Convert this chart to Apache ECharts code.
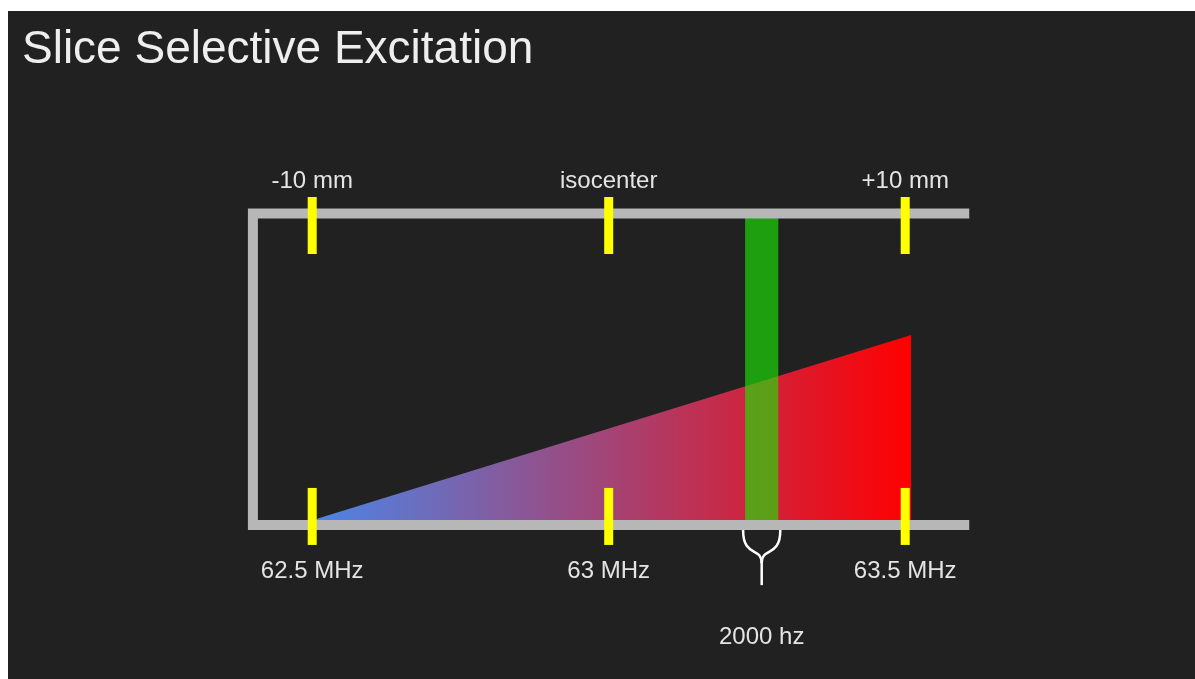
<!DOCTYPE html>
<html>
<head>
<meta charset="utf-8">
<script src="https://cdn.jsdelivr.net/npm/echarts@6/dist/echarts.min.js"></script>
<style>
  html, body { margin: 0; padding: 0; background: #ffffff; width: 1195px; height: 679px; overflow: hidden; }
  #chart { position: absolute; left: 8px; top: 11px; width: 1187px; height: 668px; }
</style>
</head>
<body>
<div id="chart"></div>
<script>
// ---- data ----
const titleText = 'Slice Selective Excitation';
const tickFreqs = [62.5, 63, 63.5];                 // MHz, yellow markers
const freqLabels = ['62.5 MHz', '63 MHz', '63.5 MHz'];
const posLabels = ['-10 mm', 'isocenter', '+10 mm'];
const frameX = [62.4, 63.608];                      // extent of the grey frame (MHz)
const frameY = [0, 10];                             // bottom / top rails
const topTickY = [8.7, 10.53];
const bottomTickY = [-0.64, 1.19];
const rampX = [62.5, 63.51];                        // gradient field ramp
const rampY = [0.15, 6.1];
const slice = [63.23, 63.286];                      // excited slice band (MHz)
const sliceLabel = '2000 hz';

const FONT = '"Liberation Sans", Arial, Helvetica, sans-serif';
const chart = echarts.init(document.getElementById('chart'));

const tickData = [];
tickFreqs.forEach(f => {
  tickData.push([f, topTickY[0], topTickY[1]]);
  tickData.push([f, bottomTickY[0], bottomTickY[1]]);
});

const labelData = [];
tickFreqs.forEach((f, i) => {
  labelData.push([f, 11.04, posLabels[i]]);
  labelData.push([f, -1.49, freqLabels[i]]);
});
labelData.push([(slice[0] + slice[1]) / 2, -3.61, sliceLabel]);

const option = {
  backgroundColor: '#212121',
  animation: false,
  title: {
    text: titleText, left: 14, top: 16, padding: 0,
    textStyle: { color: '#eeeeee', fontSize: 46, fontWeight: 'normal', fontFamily: FONT }
  },
  grid: { left: 185.6, right: 171.2, top: 140.2, bottom: 29.4, containLabel: false },
  xAxis: { type: 'value', min: 62.3, max: 63.7, show: false },
  yAxis: { type: 'value', min: -4, max: 12, show: false },
  series: [
    {
      name: 'ramp', type: 'custom', z: 1,
      data: [[rampX[0], rampY[0], rampX[1], rampY[1]]],
      renderItem: function (params, api) {
        const x0 = api.value(0), y0 = api.value(1), x1 = api.value(2), y1 = api.value(3);
        const pts = [api.coord([x0, 0]), api.coord([x0, y0]), api.coord([x1, y1]), api.coord([x1, 0])];
        return {
          type: 'polygon', shape: { points: pts },
          style: {
            fill: new echarts.graphic.LinearGradient(0, 0, 1, 0, [
              { offset: 0, color: '#4a86e8' },
              { offset: 1, color: '#ff0000' }
            ])
          }
        };
      }
    },
    {
      name: 'slice', type: 'custom', z: 2,
      data: [[slice[0], slice[1], frameY[0], frameY[1]]],
      renderItem: function (params, api) {
        const p0 = api.coord([api.value(0), api.value(3)]);
        const p1 = api.coord([api.value(1), api.value(2)]);
        return {
          type: 'rect',
          shape: { x: p0[0], y: p0[1], width: p1[0] - p0[0], height: p1[1] - p0[1] },
          style: { fill: 'rgba(28,228,6,0.65)' }
        };
      }
    },
    {
      name: 'frame', type: 'line', z: 3, symbol: 'none', silent: true,
      data: [[frameX[1], frameY[1]], [frameX[0], frameY[1]], [frameX[0], frameY[0]], [frameX[1], frameY[0]]],
      lineStyle: { color: '#b7b7b7', width: 10, cap: 'butt', join: 'miter' }
    },
    {
      name: 'ticks', type: 'custom', z: 4,
      data: tickData,
      renderItem: function (params, api) {
        const x = api.value(0);
        const pa = api.coord([x, api.value(1)]);
        const pb = api.coord([x, api.value(2)]);
        return {
          type: 'rect',
          shape: { x: pa[0] - 4.5, y: pb[1], width: 9, height: pa[1] - pb[1] },
          style: { fill: '#ffff00' }
        };
      }
    },
    {
      name: 'bracket', type: 'custom', z: 5,
      data: [[slice[0], slice[1]]],
      renderItem: function (params, api) {
        const a = api.value(0), b = api.value(1), c = (a + b) / 2;
        const L = api.coord([a, -0.16]);
        const R = api.coord([b, -0.16]);
        const M = api.coord([c, -1.22]);
        const S = api.coord([c, -1.93]);
        const d = M[1] - L[1];
        const st = { stroke: '#ffffff', lineWidth: 2.5, fill: null };
        return {
          type: 'group',
          children: [
            { type: 'bezierCurve', shape: { x1: L[0] - 2, y1: L[1], cpx1: L[0] - 2, cpy1: L[1] + 0.85 * d, cpx2: M[0], cpy2: M[1] - 0.5 * d, x2: M[0], y2: M[1] }, style: st },
            { type: 'bezierCurve', shape: { x1: R[0] + 2, y1: R[1], cpx1: R[0] + 2, cpy1: R[1] + 0.85 * d, cpx2: M[0], cpy2: M[1] - 0.5 * d, x2: M[0], y2: M[1] }, style: st },
            { type: 'line', shape: { x1: M[0], y1: M[1] - 1, x2: S[0], y2: S[1] }, style: st }
          ]
        };
      }
    },
    {
      name: 'labels', type: 'custom', z: 6,
      data: labelData,
      renderItem: function (params, api) {
        const p = api.coord([api.value(0), api.value(1)]);
        return {
          type: 'text', x: p[0], y: p[1],
          style: {
            text: labelData[params.dataIndex][2],
            fill: '#e4e4e4',
            font: '24px ' + FONT,
            align: 'center', verticalAlign: 'middle'
          }
        };
      }
    }
  ]
};
chart.setOption(option);
</script>
</body>
</html>
